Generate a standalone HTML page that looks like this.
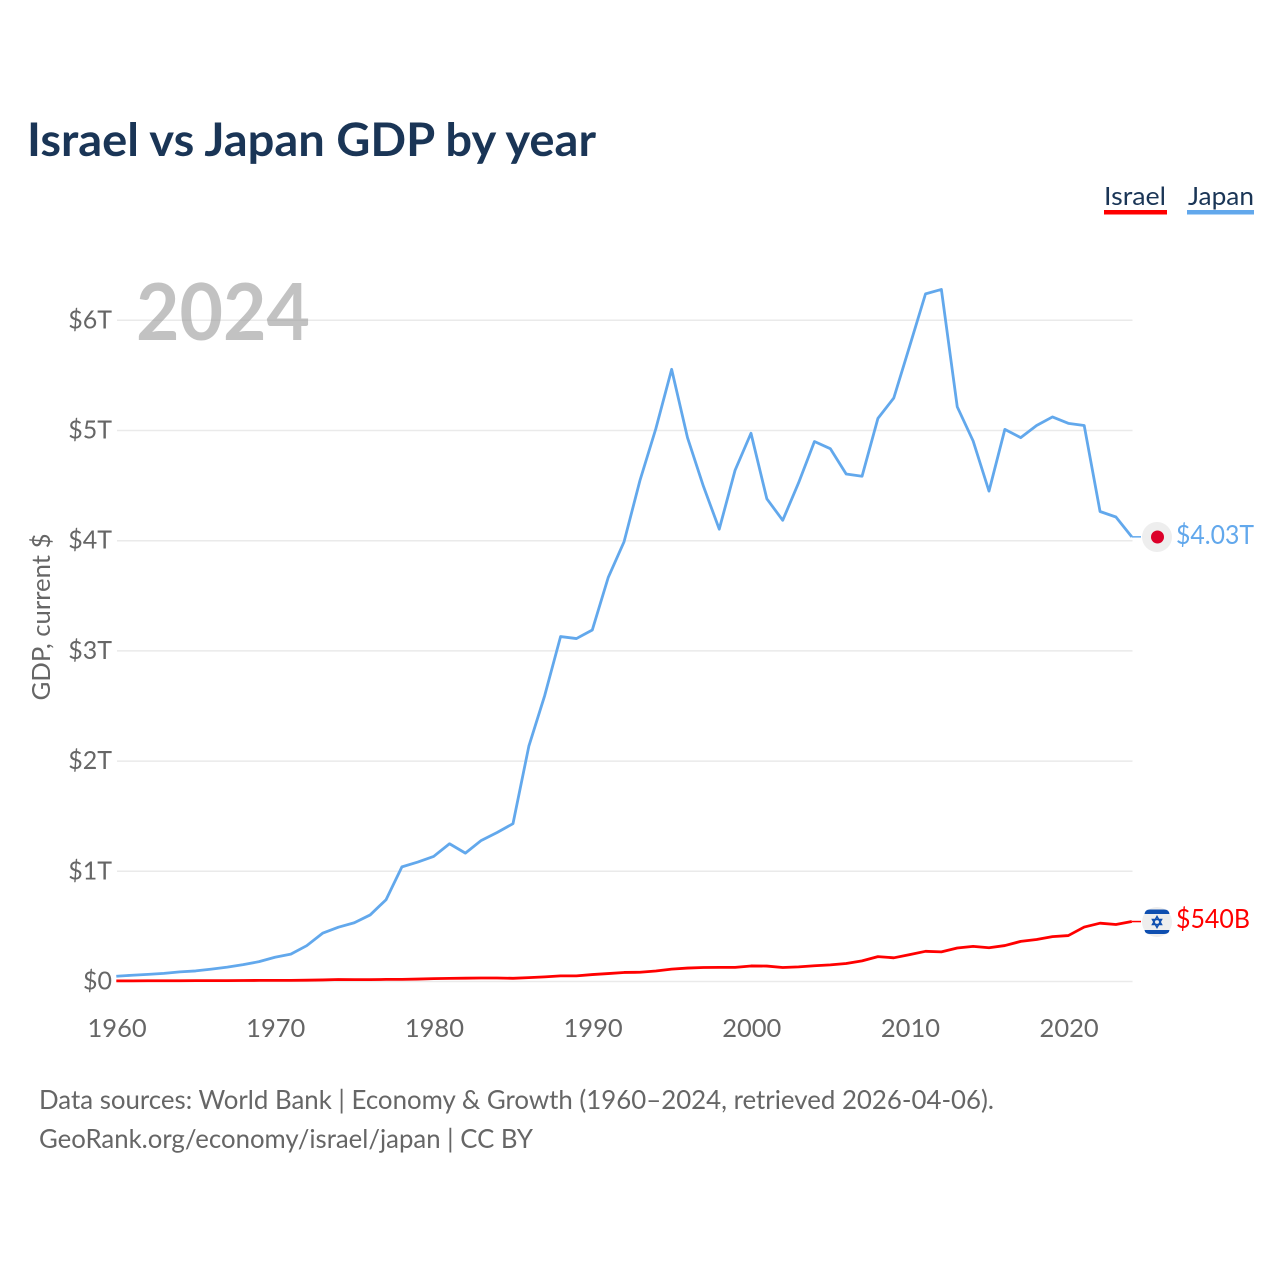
<!DOCTYPE html>
<html lang="en">
<head>
<meta charset="utf-8">
<title>Israel vs Japan GDP by year</title>
<style>
html,body{margin:0;padding:0;background:#fff;width:1280px;height:1280px;overflow:hidden}
svg{display:block}
text{font-family:Lato,Carlito,"Liberation Sans",sans-serif}
</style>
</head>
<body>
<svg id="chart" width="1280" height="1280" viewBox="0 0 1280 1280" xmlns="http://www.w3.org/2000/svg">
  <text x="27" y="156" font-size="46" font-weight="700" fill="#1a3556" textLength="569" lengthAdjust="spacingAndGlyphs">Israel vs Japan GDP by year</text>

  <g id="grid"></g>
  <g id="yticks"></g>
  <g id="xticks"></g>

  <text x="136" y="340" font-size="79" font-weight="700" fill="#999" fill-opacity="0.6" textLength="174" lengthAdjust="spacingAndGlyphs">2024</text>

  <text transform="translate(50,617) rotate(-90)" text-anchor="middle" font-size="25.500" fill="#666" textLength="167" lengthAdjust="spacingAndGlyphs">GDP, current $</text>

  <g id="series"></g>

  <g>
    <g>
      <text x="1104" y="205" font-size="25" fill="#1a3556" textLength="62" lengthAdjust="spacingAndGlyphs">Israel</text>
      <rect x="1104" y="210" width="63" height="4.500" fill="#ff0000"/>
    </g>
    <g>
      <text x="1188" y="205" font-size="25" fill="#1a3556" textLength="66" lengthAdjust="spacingAndGlyphs">Japan</text>
      <rect x="1187" y="210" width="67" height="4.500" fill="#62a8ec"/>
    </g>
  </g>

  <g>
    <circle cx="1157" cy="537" r="15" fill="#eeeeee"/>
    <circle cx="1157.500" cy="537" r="6.500" fill="#dc0029"/>
  </g>
  <text x="1176" y="544" font-size="26" fill="#62a8ec" textLength="78" lengthAdjust="spacingAndGlyphs">$4.03T</text>

  <g>
    <circle cx="1157" cy="922" r="15" fill="#eeeeee"/>
    <path d="M1144.500 914 Q1145 909.500 1150 909.500 L1164 909.500 Q1169 909.500 1169.500 914 Z" fill="#0f4fb0"/>
    <path d="M1144.500 930 L1169.500 930 Q1169 934 1164 934 L1150 934 Q1145 934 1144.500 930 Z" fill="#0f4fb0"/>
    <path d="M1157 916.500 L1161.500 924.500 L1152.500 924.500 Z M1157 927.500 L1152.500 919.500 L1161.500 919.500 Z" fill="none" stroke="#0f4fb0" stroke-width="1.500"/>
  </g>
  <text x="1176" y="928" font-size="26" fill="#ff0000" textLength="74" lengthAdjust="spacingAndGlyphs">$540B</text>

  <text x="39" y="1109" font-size="26.500" fill="#666" textLength="955" lengthAdjust="spacingAndGlyphs">Data sources: World Bank | Economy &amp; Growth (1960–2024, retrieved 2026-04-06).</text>
  <text x="39" y="1148" font-size="26.500" fill="#666" textLength="494" lengthAdjust="spacingAndGlyphs">GeoRank.org/economy/israel/japan | CC BY</text>
</svg>
<script>
const years = [1960,1961,1962,1963,1964,1965,1966,1967,1968,1969,1970,1971,1972,1973,1974,1975,1976,1977,1978,1979,1980,1981,1982,1983,1984,1985,1986,1987,1988,1989,1990,1991,1992,1993,1994,1995,1996,1997,1998,1999,2000,2001,2002,2003,2004,2005,2006,2007,2008,2009,2010,2011,2012,2013,2014,2015,2016,2017,2018,2019,2020,2021,2022,2023,2024];
const japanValues = [0.048,0.057,0.065,0.074,0.087,0.096,0.112,0.130,0.153,0.180,0.220,0.248,0.325,0.438,0.493,0.533,0.604,0.742,1.040,1.084,1.135,1.250,1.165,1.280,1.352,1.432,2.135,2.595,3.130,3.112,3.190,3.665,3.990,4.545,5.015,5.555,4.935,4.495,4.105,4.640,4.975,4.380,4.185,4.525,4.900,4.835,4.605,4.585,5.110,5.295,5.765,6.240,6.280,5.215,4.905,4.450,5.010,4.935,5.045,5.123,5.065,5.045,4.265,4.215,4.035];
const israelValues = [0.006,0.006,0.007,0.007,0.007,0.008,0.008,0.008,0.009,0.010,0.010,0.010,0.012,0.014,0.018,0.017,0.017,0.019,0.019,0.022,0.026,0.028,0.030,0.032,0.032,0.029,0.035,0.042,0.051,0.051,0.063,0.072,0.082,0.084,0.095,0.112,0.122,0.127,0.128,0.128,0.141,0.140,0.127,0.133,0.143,0.151,0.163,0.187,0.226,0.215,0.244,0.274,0.269,0.304,0.319,0.306,0.326,0.364,0.381,0.407,0.417,0.494,0.529,0.517,0.544];
const yTickValues = [0,1,2,3,4,5,6];
const yTickLabels = ["$0","$1T","$2T","$3T","$4T","$5T","$6T"];
const xTickYears = [1960,1970,1980,1990,2000,2010,2020];

const NS = 'http://www.w3.org/2000/svg';
const xScale = y => 116.300 + (y - 1960) * 15.867;
const yScale = v => 981.500 - v * 110.200;

function make(tag, attrs, parent, txt) {
  const el = document.createElementNS(NS, tag);
  for (const k in attrs) el.setAttribute(k, attrs[k]);
  if (txt !== undefined) el.textContent = txt;
  parent.appendChild(el);
  return el;
}

const gridG = document.getElementById('grid');
const yG = document.getElementById('yticks');
const xG = document.getElementById('xticks');
const seriesG = document.getElementById('series');

yTickValues.forEach((v, i) => {
  const line = make('line', {x1: 117, x2: 1132.500, y1: yScale(v), y2: yScale(v), stroke: '#eaeaea', 'stroke-width': 1.500}, gridG);
  
  
  const t = make('text', {x: 112, y: yScale(v) + 8, 'text-anchor': 'end', 'font-size': 25, fill: '#666'}, yG, yTickLabels[i]);
  
  
});

xTickYears.forEach(y => {
  const t = make('text', {x: xScale(y) + 0.8, y: 1037, 'text-anchor': 'middle', 'font-size': 25.500, fill: '#666'}, xG, String(y));
  
  
});

function drawSeries(values, color, seriesName) {
  const pts = values.map((v, i) => xScale(years[i]).toFixed(2) + ',' + yScale(v).toFixed(2));
  const last = values[values.length - 1];
  const poly = make('polyline', {points: pts.join(' '), fill: 'none', stroke: color, 'stroke-width': 2.800, 'stroke-linejoin': 'round'}, seriesG);
  
  
  const conn = make('line', {x1: xScale(years[years.length - 1]), x2: 1141, y1: yScale(last), y2: yScale(last), stroke: color, 'stroke-width': 1.500}, seriesG);
  
  
}
drawSeries(japanValues, '#62a8ec', 'japan-line');
drawSeries(israelValues, '#ff0000', 'israel-line');
</script>
</body>
</html>
